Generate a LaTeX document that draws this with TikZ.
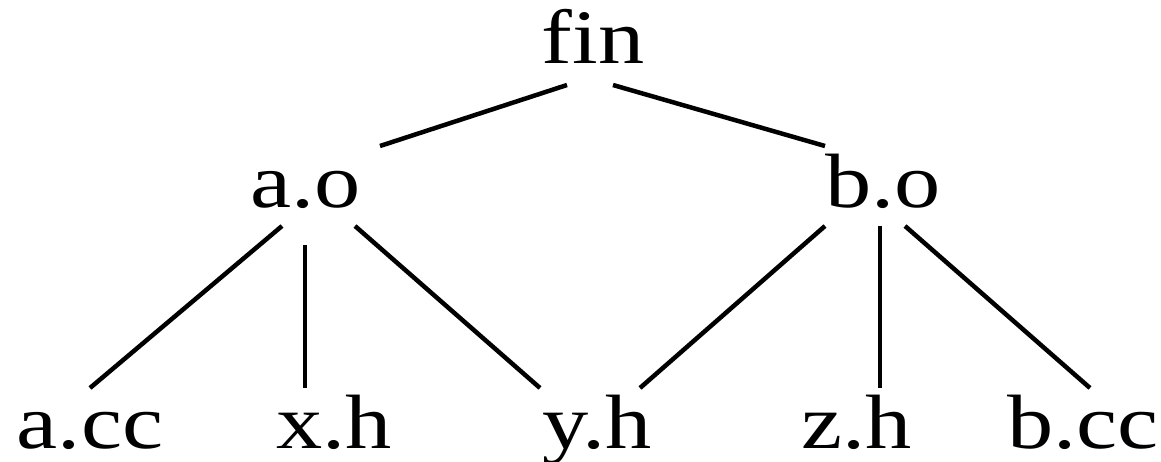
\documentclass[tikz,border=0pt]{standalone}
\usepackage{fontspec}
\newfontfamily\treefont[FakeStretch=1.2]{Liberation Serif}
\begin{document}
\begin{tikzpicture}[x=1pt,y=-1pt,
  file/.style={inner sep=0pt,anchor=base,font=\treefont\fontsize{77}{80}\selectfont},
  dep/.style={line width=4.5pt,black}]
\useasboundingbox (0,0) rectangle (1161,461);
% targets
\node[file] (fin) at (593,63) {fin};
\node[file] (ao) at (306,207) {a.o};
\node[file] (bo) at (883,207) {b.o};
\node[file] (acc) at (90,448) {a.cc};
\node[file] (xh) at (334,448) {x.h};
\node[file] (yh) at (597,448) {y.h};
\node[file] (zh) at (857,448) {z.h};
\node[file] (bcc) at (1083,448) {b.cc};
% dependency edges
\draw[dep] ([shift={(-26,22)}]fin.base) -- ([shift={(74,-61)}]ao.base);
\draw[dep] ([shift={(20,22)}]fin.base) -- ([shift={(-58,-61)}]bo.base);
\draw[dep] ([shift={(-24,19)}]ao.base) -- ([shift={(0,-60)}]acc.base);
\draw[dep] ([shift={(-1,38)}]ao.base) -- ([shift={(-29,-60)}]xh.base);
\draw[dep] ([shift={(49,19)}]ao.base) -- ([shift={(-57,-60)}]yh.base);
\draw[dep] ([shift={(-58,19)}]bo.base) -- ([shift={(43,-60)}]yh.base);
\draw[dep] ([shift={(-3,19)}]bo.base) -- ([shift={(23,-60)}]zh.base);
\draw[dep] ([shift={(22,19)}]bo.base) -- ([shift={(7,-60)}]bcc.base);
\end{tikzpicture}
\end{document}
